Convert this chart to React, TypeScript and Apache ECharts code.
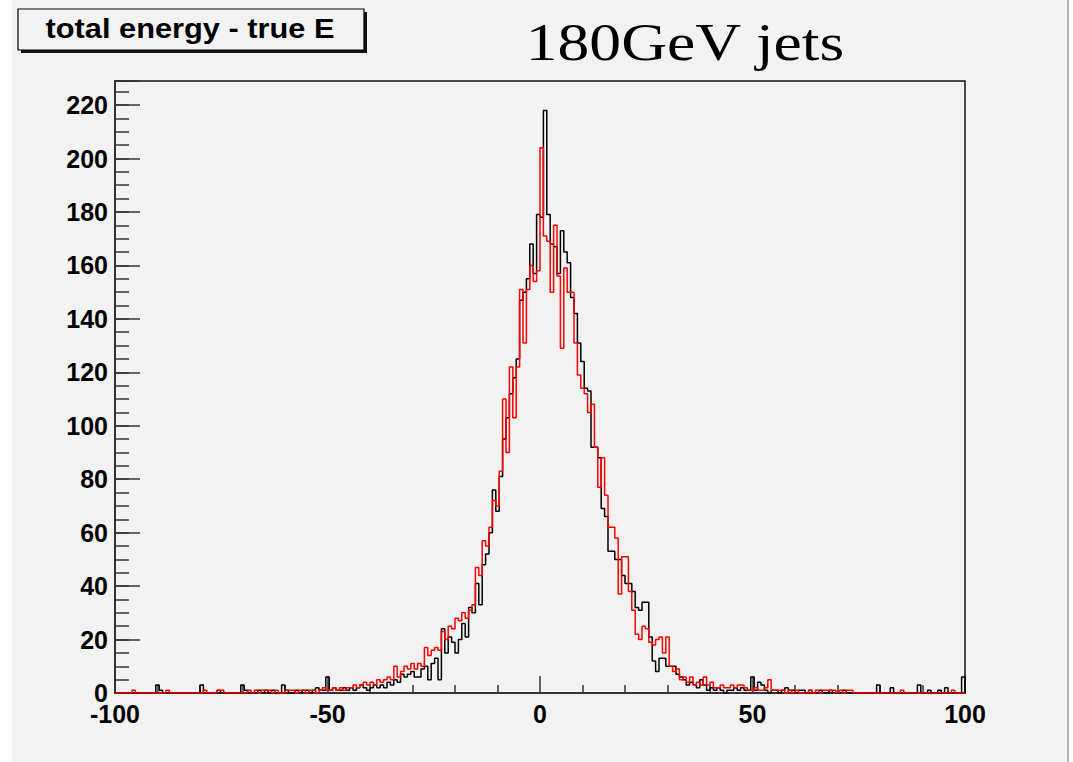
import React, { useEffect, useRef } from "react";
import * as echarts from "echarts";

// Histogram binning (x axis: total energy - true E)
const BIN_MIN = -100;
const BIN_WIDTH = 0.8;

// Black histogram counts, 250 bins of width 0.8 from -100 to 100
const blackCounts = [
  0, 0, 0, 0, 0, 0, 0, 0, 0, 0,
  0, 0, 3, 1, 0, 0, 0, 0, 0, 0,
  0, 0, 0, 0, 0, 3, 0, 0, 0, 0,
  1, 0, 0, 0, 0, 0, 0, 3, 1, 0,
  0, 0, 1, 0, 1, 0, 1, 0, 0, 3,
  1, 0, 0, 1, 0, 1, 1, 0, 1, 2,
  1, 1, 6, 1, 2, 1, 1, 2, 1, 2,
  1, 2, 3, 2, 1, 2, 3, 2, 3, 2,
  4, 3, 5, 4, 7, 6, 7, 8, 6, 6,
  9, 10, 5, 11, 13, 5, 24, 15, 21, 19,
  15, 20, 26, 21, 32, 30, 41, 33, 48, 52,
  60, 76, 68, 81, 95, 103, 112, 118, 125, 147,
  150, 155, 168, 157, 179, 178, 218, 179, 168, 167,
  157, 173, 165, 161, 148, 142, 131, 124, 114, 113,
  92, 92, 88, 69, 66, 53, 53, 50, 50, 44,
  41, 41, 38, 32, 31, 34, 34, 21, 12, 8,
  13, 13, 10, 10, 10, 7, 6, 5, 3, 4,
  3, 2, 5, 3, 1, 2, 1, 2, 1, 0,
  1, 1, 2, 1, 2, 1, 1, 6, 1, 4,
  3, 1, 0, 1, 1, 0, 1, 2, 1, 1,
  0, 1, 1, 0, 1, 0, 0, 1, 0, 0,
  1, 0, 0, 0, 1, 0, 0, 0, 0, 0,
  0, 0, 0, 0, 3, 0, 0, 0, 2, 0,
  0, 0, 0, 0, 0, 0, 3, 0, 0, 1,
  0, 0, 1, 0, 2, 0, 0, 0, 0, 6,
];

// Red histogram counts, same binning
const redCounts = [
  0, 0, 0, 0, 0, 1, 0, 0, 0, 0,
  0, 0, 0, 0, 0, 1, 0, 0, 0, 0,
  0, 0, 0, 0, 0, 0, 1, 0, 0, 0,
  1, 1, 0, 0, 0, 0, 0, 0, 0, 1,
  0, 1, 0, 1, 1, 1, 0, 1, 0, 0,
  1, 1, 1, 0, 1, 1, 0, 1, 1, 0,
  1, 2, 1, 1, 2, 1, 2, 1, 2, 2,
  3, 2, 3, 4, 3, 4, 3, 5, 4, 5,
  6, 5, 10, 6, 8, 10, 9, 11, 9, 11,
  10, 17, 14, 16, 17, 16, 23, 20, 25, 24,
  28, 27, 30, 28, 31, 33, 47, 44, 57, 55,
  62, 72, 70, 83, 110, 90, 122, 103, 122, 151,
  131, 151, 160, 154, 158, 204, 171, 169, 150, 175,
  156, 129, 159, 150, 150, 131, 119, 114, 112, 105,
  108, 92, 77, 88, 74, 62, 62, 58, 37, 51,
  51, 38, 31, 22, 20, 25, 24, 19, 18, 20,
  21, 15, 21, 10, 8, 9, 5, 6, 4, 6,
  3, 4, 3, 6, 3, 4, 2, 2, 3, 2,
  2, 3, 2, 3, 3, 2, 1, 1, 2, 1,
  1, 2, 5, 1, 1, 1, 1, 0, 1, 0,
  1, 0, 0, 0, 1, 0, 1, 0, 1, 1,
  1, 1, 0, 1, 0, 1, 1, 0, 0, 0,
  0, 0, 0, 0, 0, 0, 0, 0, 0, 0,
  0, 1, 0, 0, 0, 0, 0, 0, 0, 0,
  0, 0, 0, 0, 0, 0, 1, 0, 0, 0,
];

const X_MIN = -100;
const X_MAX = 100;
const X_STEP = 50;
const Y_MIN = 0;
const Y_MAX = 229;
const Y_STEP = 20;
const Y_MINOR_STEP = 5;

const TITLE_TEXT = "total energy - true E";
const HEADLINE_TEXT = "180GeV jets";

function histPoints(counts: number[]): [number, number][] {
  const pts: [number, number][] = counts.map((c, i) => [BIN_MIN + i * BIN_WIDTH, c]);
  const end = BIN_MIN + counts.length * BIN_WIDTH;
  pts.push([end, counts[counts.length - 1]]);
  pts.push([end, 0]);
  return pts;
}

const AXIS_COLOR = "#333";
const LABEL_FONT = "'Liberation Sans', Arial, Helvetica, sans-serif";

export default function App() {
  const ref = useRef<HTMLDivElement>(null);

  useEffect(() => {
    if (!ref.current) return;
    const chart = echarts.init(ref.current, undefined, { renderer: "svg" });
    chart.setOption({
      animation: false,
      backgroundColor: "#f2f2f2",
      grid: {
        left: 115,
        right: 108,
        top: 81,
        bottom: 69,
        show: true,
        borderColor: "#111",
        borderWidth: 1.5,
        backgroundColor: "transparent",
      },
      xAxis: {
        type: "value",
        min: X_MIN,
        max: X_MAX,
        interval: X_STEP,
        position: "bottom",
        axisLine: { show: true, onZero: false, lineStyle: { color: AXIS_COLOR, width: 2 } },
        axisTick: { show: true, inside: true, length: 17, lineStyle: { color: AXIS_COLOR, width: 1.5 } },
        minorTick: { show: true, splitNumber: 5, length: 8, lineStyle: { color: AXIS_COLOR, width: 1.5 } },
        axisLabel: {
          color: "#000",
          fontSize: 25,
          fontWeight: "bold",
          fontFamily: LABEL_FONT,
          margin: 8,
        },
        splitLine: { show: false },
        minorSplitLine: { show: false },
      },
      yAxis: [
        {
          type: "value",
          min: Y_MIN,
          max: Y_MAX,
          interval: Y_STEP,
          position: "left",
          axisLine: { show: true, onZero: false, lineStyle: { color: AXIS_COLOR, width: 2 } },
          axisTick: { show: true, inside: true, length: 25, lineStyle: { color: AXIS_COLOR, width: 1.5 } },
          axisLabel: {
            color: "#000",
            fontSize: 25,
            fontWeight: "bold",
            fontFamily: LABEL_FONT,
            margin: 7,
            formatter: (v: number) => (v % Y_STEP === 0 ? String(v) : ""),
          },
          splitLine: { show: false },
        },
        {
          type: "value",
          min: Y_MIN,
          max: Y_MAX,
          interval: Y_MINOR_STEP,
          position: "left",
          axisLine: { show: false, onZero: false },
          axisTick: { show: true, inside: true, length: 14, lineStyle: { color: AXIS_COLOR, width: 1.5 } },
          axisLabel: { show: false },
          splitLine: { show: false },
        },
      ],
      series: [
        {
          name: "black",
          type: "line",
          step: "end",
          yAxisIndex: 0,
          data: histPoints(blackCounts),
          showSymbol: false,
          symbol: "none",
          lineStyle: { color: "#000", width: 1.5 },
          clip: true,
          z: 3,
        },
        {
          name: "red",
          type: "line",
          step: "end",
          yAxisIndex: 0,
          data: histPoints(redCounts),
          showSymbol: false,
          symbol: "none",
          lineStyle: { color: "#ff0000", width: 1.5 },
          clip: true,
          z: 4,
        },
      ],
      graphic: [
        { type: "rect", shape: { x: 0, y: 0, width: 12, height: 762 }, style: { fill: "#ffffff" }, silent: true },
        { type: "rect", shape: { x: 1069, y: 0, width: 4, height: 762 }, style: { fill: "#ffffff" }, silent: true },
        { type: "rect", shape: { x: 1067, y: 0, width: 2, height: 762 }, style: { fill: "#b4b4b4" }, silent: true },
        { type: "rect", shape: { x: 21, y: 12, width: 346, height: 41 }, style: { fill: "#111" }, silent: true },
        {
          type: "rect",
          shape: { x: 18, y: 9, width: 346, height: 41 },
          style: { fill: "#f2f2f2", stroke: "#000", lineWidth: 1.2 },
          silent: true,
        },
        {
          type: "text",
          x: 190,
          y: 29,
          scaleX: 1.14,
          style: {
            text: TITLE_TEXT,
            fontSize: 27,
            fontWeight: "bold",
            fontFamily: LABEL_FONT,
            fill: "#000",
            align: "center",
            verticalAlign: "middle",
          },
          silent: true,
        },
        {
          type: "text",
          x: 685,
          y: 42,
          scaleX: 1.2,
          style: {
            text: HEADLINE_TEXT,
            fontSize: 53,
            fontFamily: "'Liberation Serif', 'Times New Roman', serif",
            fill: "#000",
            align: "center",
            verticalAlign: "middle",
          },
          silent: true,
        },
      ],
    });
    return () => chart.dispose();
  }, []);

  return (
    <div
      style={{ position: "fixed", left: 0, top: 0, width: 1073, height: 762, background: "#fff" }}
    >
      <div ref={ref} style={{ width: 1073, height: 762 }} />
    </div>
  );
}
